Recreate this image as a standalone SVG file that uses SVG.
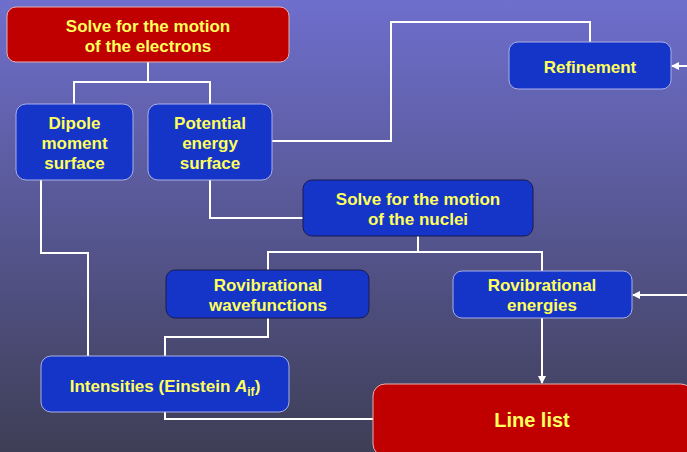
<svg xmlns="http://www.w3.org/2000/svg" width="687" height="452" viewBox="0 0 687 452">
<defs>
<linearGradient id="bg" x1="0" y1="0" x2="0" y2="1">
<stop offset="0" stop-color="#6e6ecd"/>
<stop offset="1" stop-color="#3e3e56"/>
</linearGradient>
<marker id="arr" viewBox="0 0 8 8" refX="7" refY="4" markerWidth="8" markerHeight="8" markerUnits="userSpaceOnUse" orient="auto">
<path d="M0,0 L8,4 L0,8 z" fill="#ffffff"/>
</marker>
<style>
.blue{fill:#1535c9;stroke:#a8b0e8;stroke-width:1}
.bluedk{fill:#1535c9;stroke:#1a1a50;stroke-width:1}
.red{fill:#c00000;stroke:#e8b0b0;stroke-width:1}
.t{font-family:"Liberation Sans",Arial,sans-serif;font-weight:bold;font-size:17px;fill:#ffff5c;text-anchor:middle}
.c{fill:none;stroke:#ffffff;stroke-width:2}
</style>
</defs>
<rect x="0" y="0" width="687" height="452" fill="url(#bg)"/>
<g id="connectors">
<polyline class="c" points="148,62 148,82"/>
<polyline class="c" points="74,104 74,82 210,82 210,104"/>
<polyline class="c" points="272,141 391,141 391,22 590,22 590,42"/>
<polyline class="c" points="687,66 672,66" marker-end="url(#arr)"/>
<polyline class="c" points="210,180 210,218 303,218"/>
<polyline class="c" points="41,180 41,253 88,253 88,356"/>
<polyline class="c" points="418,236 418,252"/>
<polyline class="c" points="268,270 268,252 542,252 542,271"/>
<polyline class="c" points="268,318 268,337 165,337 165,356"/>
<polyline class="c" points="165,412 165,419 373,419"/>
<polyline class="c" points="542,318 542,383" marker-end="url(#arr)"/>
<polyline class="c" points="687,295 633,295" marker-end="url(#arr)"/>
</g>
<g id="electrons">
<rect class="red" x="7" y="7" width="282" height="55" rx="9"/>
<text class="t" x="148" y="32">Solve for the motion</text>
<text class="t" x="148" y="52">of the electrons</text>
</g>
<g id="dipole">
<rect class="blue" x="16" y="104" width="117" height="76" rx="10"/>
<text class="t" x="74.5" y="129">Dipole</text>
<text class="t" x="74.5" y="149">moment</text>
<text class="t" x="74.5" y="169">surface</text>
</g>
<g id="pes">
<rect class="blue" x="148" y="104" width="124" height="76" rx="10"/>
<text class="t" x="210" y="129">Potential</text>
<text class="t" x="210" y="149">energy</text>
<text class="t" x="210" y="169">surface</text>
</g>
<g id="refinement">
<rect class="blue" x="509" y="42" width="162" height="47" rx="9"/>
<text class="t" x="590" y="73">Refinement</text>
</g>
<g id="nuclei">
<rect class="bluedk" x="303" y="180" width="230" height="56" rx="9"/>
<text class="t" x="418" y="205">Solve for the motion</text>
<text class="t" x="418" y="225">of the nuclei</text>
</g>
<g id="wavefunctions">
<rect class="bluedk" x="166" y="270" width="203" height="48" rx="9"/>
<text class="t" x="268" y="291">Rovibrational</text>
<text class="t" x="268" y="311">wavefunctions</text>
</g>
<g id="energies">
<rect class="blue" x="453" y="271" width="179" height="47" rx="9"/>
<text class="t" x="542" y="291">Rovibrational</text>
<text class="t" x="542" y="311">energies</text>
</g>
<g id="intensities">
<rect class="blue" x="41" y="356" width="248" height="56" rx="10"/>
<text class="t" x="165" y="392">Intensities (Einstein <tspan font-style="italic">A</tspan><tspan font-size="12" dy="4">if</tspan><tspan dy="-4">)</tspan></text>
</g>
<g id="linelist">
<rect class="red" x="373" y="384" width="320" height="72" rx="12"/>
<text class="t" x="532" y="427" font-size="20" style="font-size:20px">Line list</text>
</g>
</svg>
